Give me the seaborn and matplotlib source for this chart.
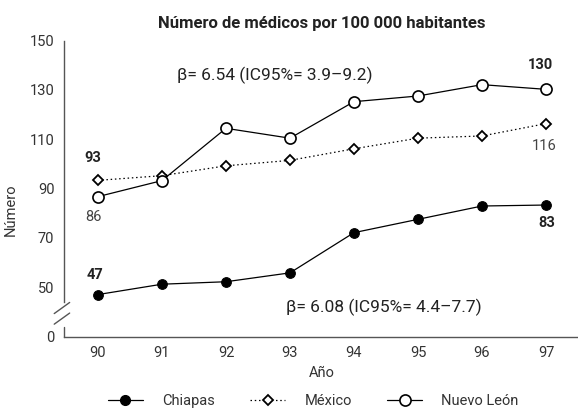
import matplotlib
matplotlib.use("Agg")
import matplotlib.pyplot as plt
import matplotlib.transforms as mtransforms
from matplotlib.lines import Line2D
import pandas as pd
import seaborn as sns

# --- datos ---
anios = [90, 91, 92, 93, 94, 95, 96, 97]
chiapas = [47, 51.2, 52.2, 55.8, 72.1, 77.5, 82.9, 83.3]
mexico = [93.3, 95.2, 99.2, 101.4, 106.1, 110.4, 111.3, 116.3]
nuevo_leon = [86.7, 93.2, 114.4, 110.4, 125.2, 127.5, 132.1, 130.2]

# el eje esta cortado: el "0" se dibuja donde iria el 30
y_ticks = [30, 50, 70, 90, 110, 130, 150]
y_tick_labels = ["0", "50", "70", "90", "110", "130", "150"]

titulo = "Número de médicos por 100 000 habitantes"
beta_nl = "β= 6.54 (IC95%= 3.9–9.2)"
beta_ch = "β= 6.08 (IC95%= 4.4–7.7)"

df = pd.DataFrame({"anio": anios, "Chiapas": chiapas, "México": mexico, "Nuevo León": nuevo_leon})

sns.set_style("white")
plt.rcParams["font.family"] = ["Roboto", "DejaVu Sans"]

gris = "#555555"
fig = plt.figure(figsize=(5.78, 4.09), dpi=100)
ax = fig.add_axes([64 / 578, 1 - 336.5 / 409, 1 - 64 / 578, (336.5 - 40.5) / 409])

sns.lineplot(data=df, x="anio", y="Chiapas", ax=ax, color="black", lw=0.9,
             marker="o", markersize=7, markerfacecolor="black", markeredgecolor="black")
sns.lineplot(data=df, x="anio", y="México", ax=ax, color="black", lw=0.9, linestyle=(0, (1.2, 2.2)),
             marker="D", markersize=5, markerfacecolor="white", markeredgecolor="black", markeredgewidth=1.3)
sns.lineplot(data=df, x="anio", y="Nuevo León", ax=ax, color="black", lw=0.9,
             marker="o", markersize=8, markerfacecolor="white", markeredgecolor="black", markeredgewidth=1.2)

ax.set_xlim(anios[0] - 0.53, anios[-1] + 0.5)
ax.set_ylim(30, 150)
ax.set_xticks(anios)
ax.set_xticklabels([str(a) for a in anios])
ax.set_xticks([a + 0.5 for a in anios[:-1]], minor=True)
ax.tick_params(axis="x", which="major", length=0, pad=7, labelsize=10.5, labelcolor="#333333")
ax.tick_params(axis="x", which="minor", length=5, width=0.9, color=gris, direction="out")
ax.set_yticks(y_ticks)
ax.set_yticklabels(y_tick_labels)
ax.tick_params(axis="y", length=5, width=0.9, color=gris, labelsize=10.5, labelcolor="#333333", pad=2)

for s in ["top", "right"]:
    ax.spines[s].set_visible(False)
for s in ["left", "bottom"]:
    ax.spines[s].set_color(gris)
    ax.spines[s].set_linewidth(1.0)
ax.spines["left"].set_bounds(44, 150)

# tramo inferior del eje y marcas de corte
trans = mtransforms.blended_transform_factory(ax.transAxes, ax.transData)
ax.add_line(Line2D([0, 0], [30, 34], transform=trans, color=gris, lw=1.0, clip_on=False))
ax.add_line(Line2D([-0.019, 0.011], [39.3, 43.8], transform=trans, color=gris, lw=1.0, clip_on=False))
ax.add_line(Line2D([-0.019, 0.011], [35.0, 39.5], transform=trans, color=gris, lw=1.0, clip_on=False))

ax.set_xlabel("Año", fontsize=10.5, color="#333333")
ax.xaxis.set_label_coords(0.502, -0.098)
ax.set_ylabel("Número", fontsize=10.5, color="#333333")
ax.yaxis.set_label_coords(-0.09, 0.427)

ax.text(0.502, 1.059, titulo, transform=ax.transAxes, ha="center", va="center",
        fontsize=12, fontweight="bold", color="#222222")
ax.text(92.76, 136, beta_nl, ha="center", va="center", fontsize=12.5, color="#222222")
ax.text(94.47, 42, beta_ch, ha="center", va="center", fontsize=12.5, color="#222222")

# etiquetas de valores extremos
etiquetas = [
    (anios[0], mexico[0], "93", (-4, 16), "bold"),
    (anios[0], nuevo_leon[0], "86", (-3.5, -14.5), "normal"),
    (anios[0], chiapas[0], "47", (-2, 14), "bold"),
    (anios[-1], nuevo_leon[-1], "130", (-4, 17.5), "bold"),
    (anios[-1], mexico[-1], "116", (-1.5, -16), "normal"),
    (anios[-1], chiapas[-1], "83", (0.5, -13), "bold"),
]
for x, y, txt, off, peso in etiquetas:
    ax.annotate(txt, xy=(x, y), xytext=off, textcoords="offset points", ha="center", va="center",
                fontsize=10.5, fontweight=peso, color="#222222" if peso == "bold" else "#444444")

handles = [
    Line2D([], [], color="black", lw=0.9, marker="o", markersize=7, markerfacecolor="black"),
    Line2D([], [], color="black", lw=0.9, linestyle=(0, (1.2, 2.2)), marker="D", markersize=5,
           markerfacecolor="white", markeredgewidth=1.3),
    Line2D([], [], color="black", lw=0.9, marker="o", markersize=8, markerfacecolor="white",
           markeredgewidth=1.2),
]
fig.legend(handles, ["Chiapas", "México", "Nuevo León"], loc="center", bbox_to_anchor=(0.542, 0.02),
           ncol=3, frameon=False, fontsize=10.5, handlelength=2.4, columnspacing=2.45, handletextpad=1.3,
           labelcolor="#333333")

fig.savefig("out.png", dpi=100)
